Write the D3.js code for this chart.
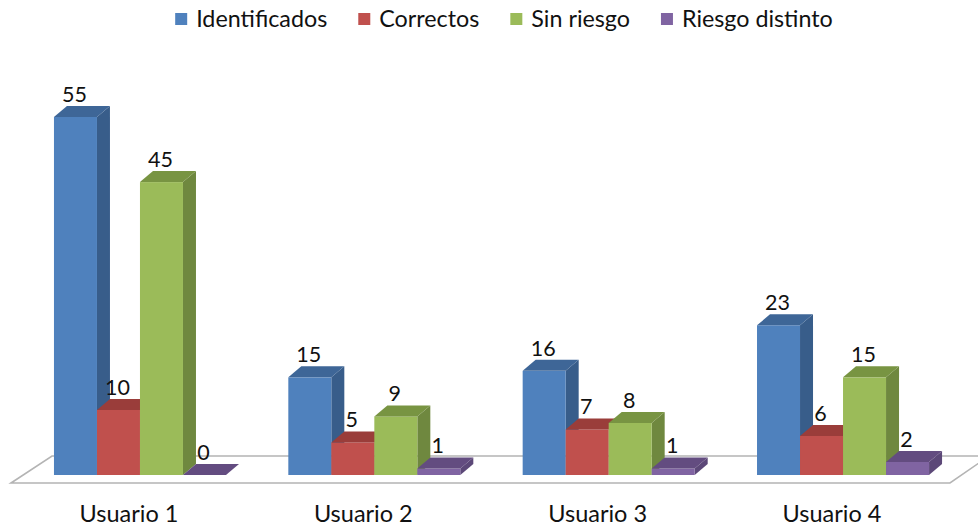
<!DOCTYPE html>
<html lang="es">
<meta charset="utf-8">
<style>
    html, body {
        margin: 0;
        padding: 0;
        background: #fff;
    }
    svg {
        display: block;
        font-family: Lato, "Open Sans", sans-serif;
    }
</style>
<body>
<svg id="svg" width="978" height="531"></svg>
<script src="https://cdn.jsdelivr.net/npm/d3@7"></script>
<script>
    // data
    var categories = ["Usuario 1", "Usuario 2", "Usuario 3", "Usuario 4"];
    var series = ["Identificados", "Correctos", "Sin riesgo", "Riesgo distinto"];
    var identificados = [55, 15, 16, 23];
    var correctos = [10, 5, 7, 6];
    var sinRiesgo = [45, 9, 8, 15];
    var riesgoDistinto = [0, 1, 1, 2];
    var values = [identificados, correctos, sinRiesgo, riesgoDistinto];

    // office 2007 palette: front, side, top
    var colors = {
        "Identificados":   ["#4f81bd", "#385d8a", "#3e6697"],
        "Correctos":       ["#c0504d", "#8c3a38", "#9a3d3a"],
        "Sin riesgo":      ["#9bbb59", "#6f883f", "#789442"],
        "Riesgo distinto": ["#8064a2", "#5c4878", "#634c80"]
    };

    var svg = d3.select("svg"),
        width = +svg.attr("width"),
        height = +svg.attr("height");

    var depth = {dx: 13, dy: 11};   // 3d offset of the bar back face

    var x = d3.scaleBand()
        .domain(categories)
        .range([16, 967])
        .paddingInner(0.266)
        .paddingOuter(0.162);

    var xs = d3.scaleBand()
        .domain(series)
        .range([0, x.bandwidth()]);

    var y = d3.scaleLinear()
        .domain([0, 55])
        .range([475, 117]);

    // floor
    var base = y(0),
        fl = x.range()[0] + 7,
        fr = x.range()[1] - 7;
    var floorPts = [
        [fl - 12, base + 8],
        [fl + 29, base - 19],
        [fr + 29, base - 19],
        [fr - 10, base + 8]
    ];
    svg.append("polygon")
        .attr("points", floorPts.map(p => p.join(",")).join(" "))
        .attr("fill", "#fff")
        .attr("stroke", "#b4b4b4")
        .attr("stroke-width", 1.6);

    // bars, left to right so the next front face hides the previous side
    var bars = [];
    categories.forEach(function(c, i) {
        series.forEach(function(s, j) {
            bars.push({cat: c, ser: s, value: values[j][i]});
        });
    });

    var gBars = svg.append("g");
    bars.forEach(function(d) {
        var x0 = x(d.cat) + xs(d.ser),
            x1 = x0 + xs.bandwidth(),
            yt = y(d.value),
            dx = depth.dx, dy = depth.dy,
            col = colors[d.ser];
        var g = gBars.append("g");
        // side
        g.append("polygon")
            .attr("points", [[x1, base], [x1 + dx, base - dy], [x1 + dx, yt - dy], [x1, yt]].map(p => p.join(",")).join(" "))
            .attr("fill", col[1]);
        // front
        g.append("rect")
            .attr("x", x0)
            .attr("y", yt)
            .attr("width", x1 - x0)
            .attr("height", base - yt)
            .attr("fill", col[0]);
        // top
        g.append("polygon")
            .attr("points", [[x0, yt], [x0 + dx, yt - dy], [x1 + dx, yt - dy], [x1, yt]].map(p => p.join(",")).join(" "))
            .attr("fill", col[2]);
    });

    // value labels
    svg.append("g").selectAll("text").data(bars).enter().append("text")
        .attr("x", d => x(d.cat) + xs(d.ser) + xs.bandwidth() / 2 - 1)
        .attr("y", d => y(d.value) - depth.dy - 4)
        .attr("text-anchor", "middle")
        .attr("font-size", 21.5)
        .attr("fill", "#111")
        .text(d => d.value);

    // category labels
    svg.append("g").selectAll("text").data(categories).enter().append("text")
        .attr("x", d => x(d) + x.bandwidth() / 2 - 11)
        .attr("y", 522)
        .attr("text-anchor", "middle")
        .attr("font-size", 23.5)
        .attr("fill", "#111")
        .text(d => d);

    // legend
    var legend = svg.append("g");
    var items = legend.selectAll("g").data(series).enter().append("g");
    items.append("rect")
        .attr("width", 12)
        .attr("height", 12)
        .attr("y", 13)
        .attr("fill", d => colors[d][0]);
    items.append("text")
        .attr("x", 21)
        .attr("y", 27)
        .attr("font-size", 23.3)
        .attr("fill", "#111")
        .text(d => d);
    var pos = 0;
    items.each(function() {
        var w = d3.select(this).select("text").node().getComputedTextLength() + 21;
        d3.select(this).attr("transform", "translate(" + pos + ",0)");
        pos += w + 31;
    });
    legend.attr("transform", "translate(" + (504 - (pos - 31) / 2) + ",0)");
</script>
</body>
</html>
